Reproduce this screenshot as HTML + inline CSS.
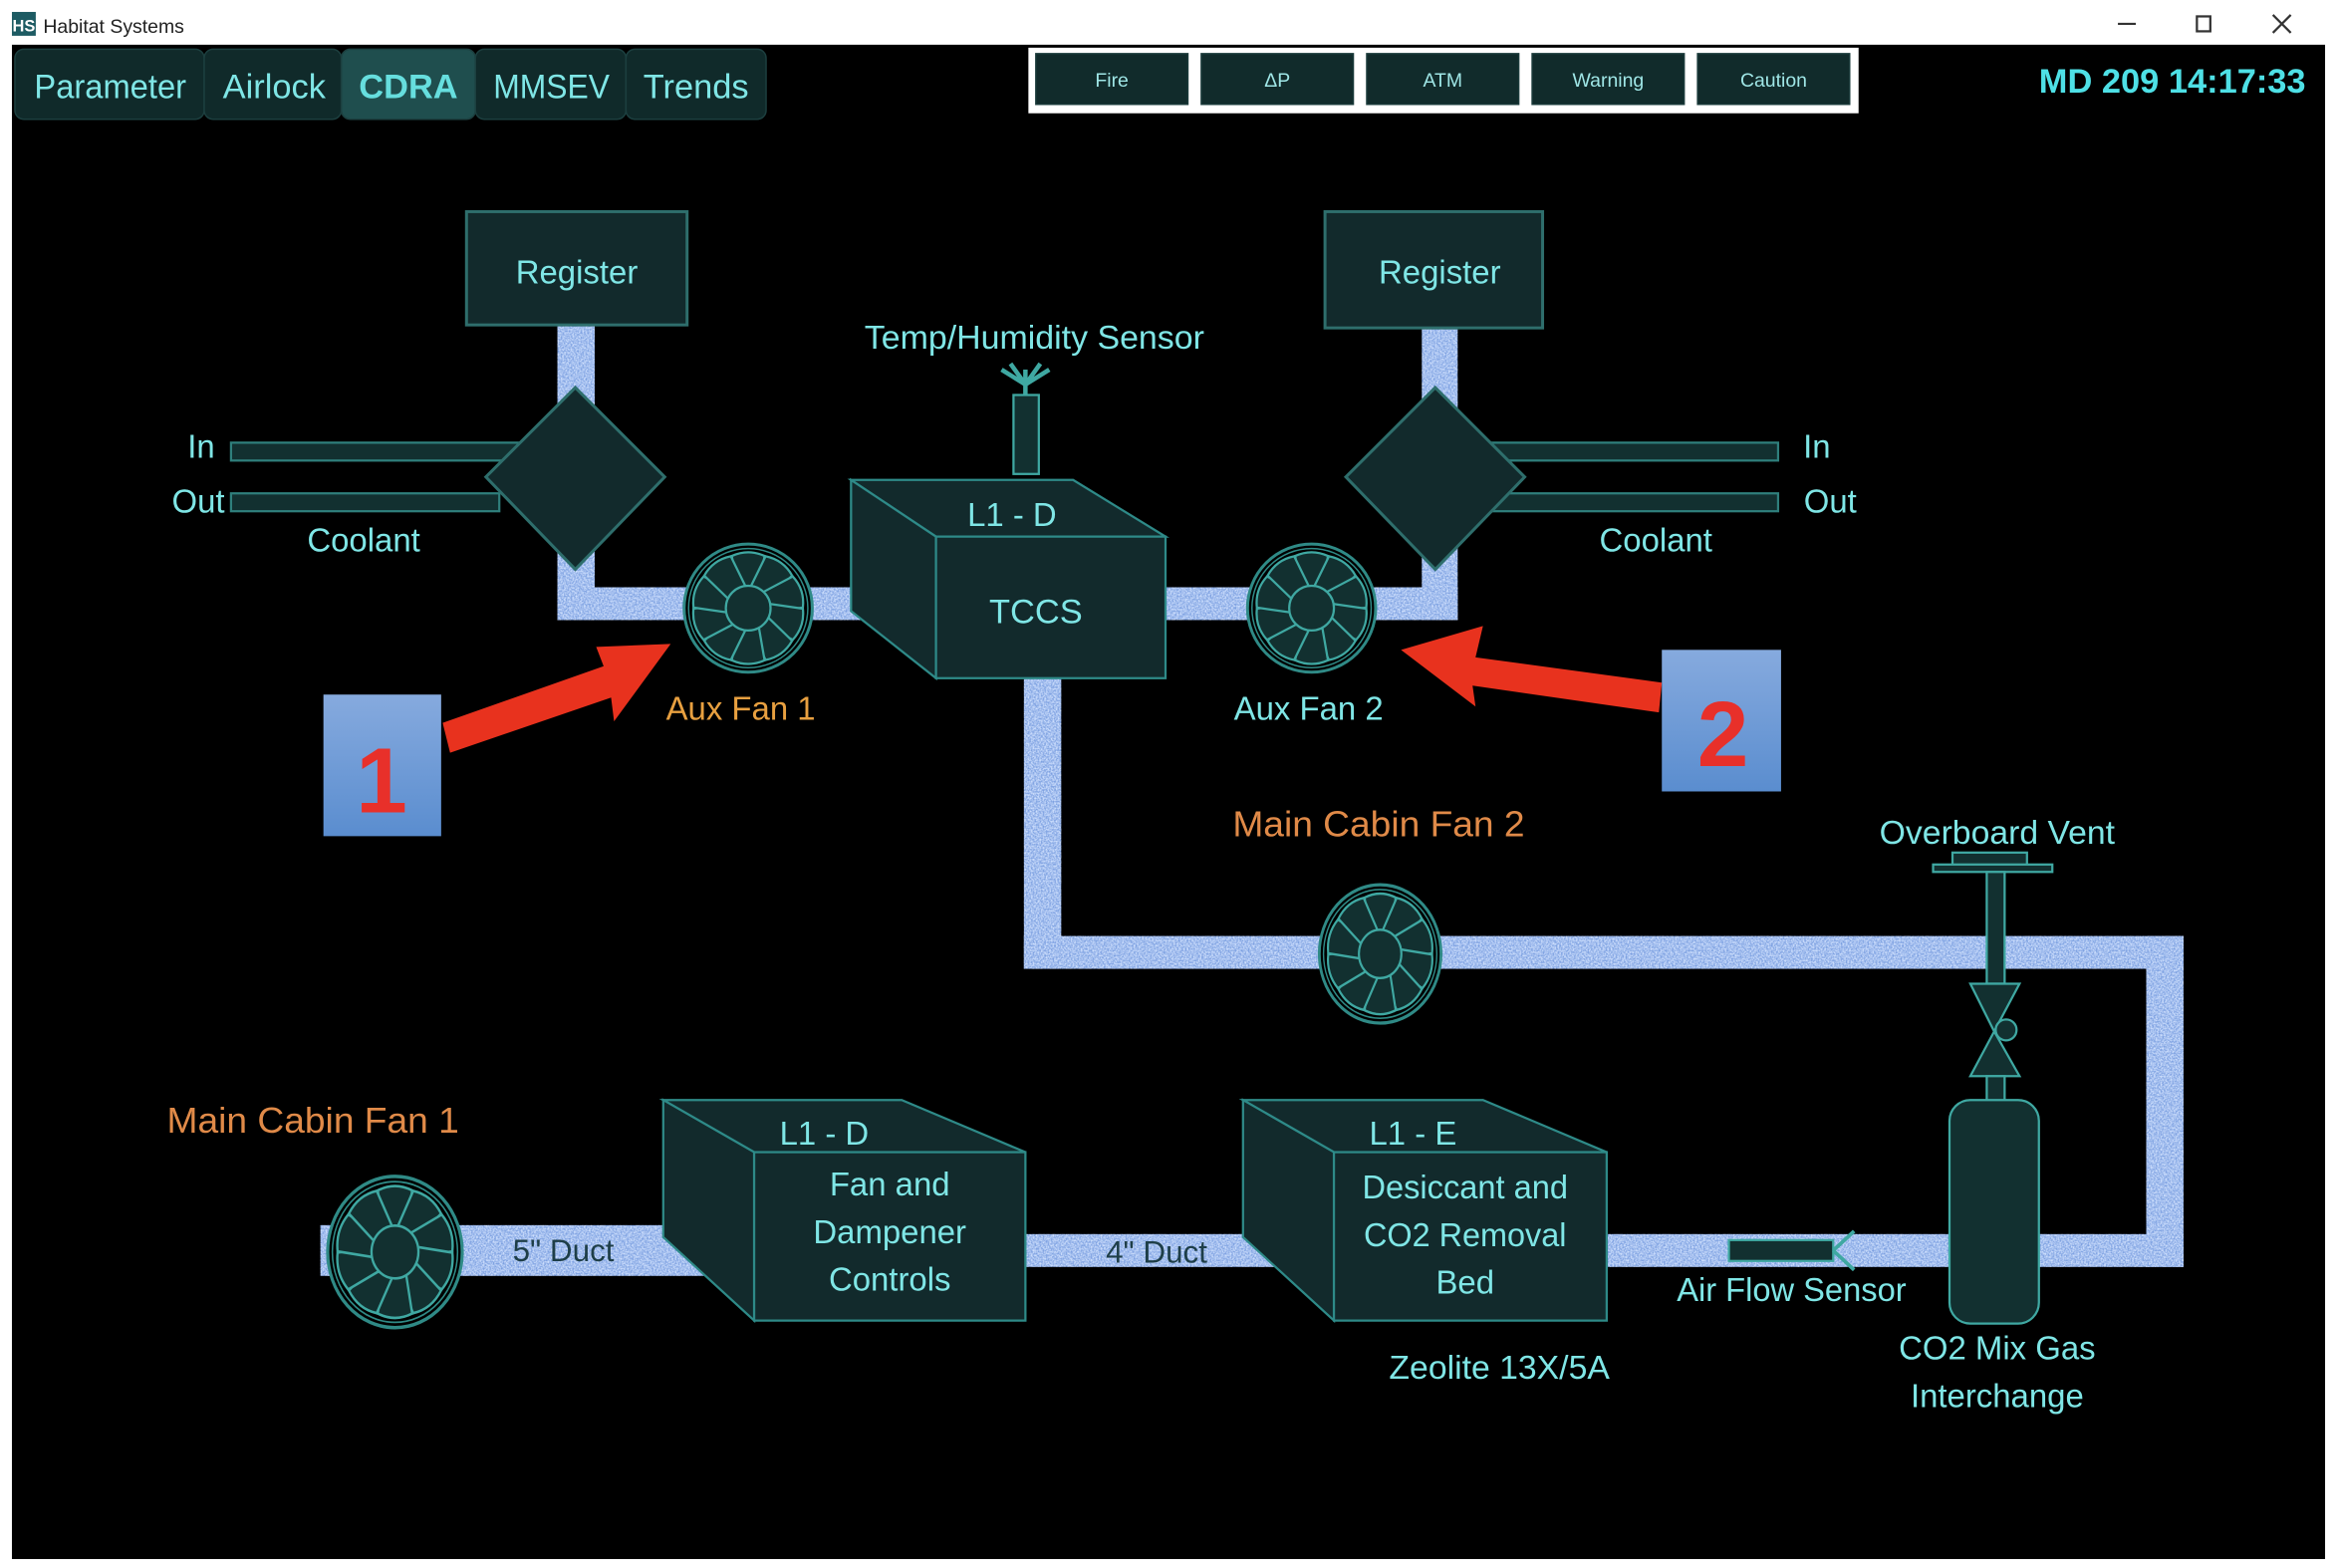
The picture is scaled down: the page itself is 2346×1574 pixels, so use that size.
<!DOCTYPE html>
<html><head><meta charset="utf-8"><style>
html,body{margin:0;padding:0;background:#fff;width:2346px;height:1574px;overflow:hidden}
svg{display:block}
text{font-family:"Liberation Sans",sans-serif}
</style></head><body>
<svg width="2346" height="1574" viewBox="0 0 1568 1052" preserveAspectRatio="none" xmlns="http://www.w3.org/2000/svg">
<defs>
<filter id="noise" x="0" y="0" width="100%" height="100%">
<feTurbulence type="fractalNoise" baseFrequency="0.9" numOctaves="2" seed="3" result="n"/>
<feColorMatrix in="n" type="matrix" values="0 0 0 0 0.62  0 0 0 0 0.74  0 0 0 0 0.98  0 0 0 -2 1.5" result="c"/>
<feComposite in="c" in2="SourceGraphic" operator="in"/>
</filter>
<linearGradient id="bg" x1="0" y1="0" x2="0" y2="1"><stop offset="0" stop-color="#86aade"/><stop offset="1" stop-color="#5a8dcf"/></linearGradient>
<g id="fan">
<circle r="43" fill="#000" stroke="#2f8a86" stroke-width="2"/>
<circle r="40" fill="none" stroke="#2f8a86" stroke-width="1"/>
<g fill="#123030" stroke="#3fa8a2" stroke-width="1.5">
<path id="bl" d="M-7,-12 L-11,-35 Q0,-40 11,-35 L7,-12 Z"/>
<use href="#bl" transform="rotate(36)"/><use href="#bl" transform="rotate(72)"/><use href="#bl" transform="rotate(108)"/><use href="#bl" transform="rotate(144)"/><use href="#bl" transform="rotate(180)"/><use href="#bl" transform="rotate(216)"/><use href="#bl" transform="rotate(252)"/><use href="#bl" transform="rotate(288)"/><use href="#bl" transform="rotate(324)"/>
</g>
<circle r="15" fill="#123030" stroke="#3fa8a2" stroke-width="1.5"/>
</g>
</defs>
<rect x="0" y="0" width="1568" height="1052" fill="#fff"/>
<rect x="8" y="30" width="1552" height="1016" fill="#000"/>
<rect x="8" y="8" width="16" height="16" fill="#1d5b63"/>
<text x="16" y="21" font-size="11" fill="#fff" text-anchor="middle" font-weight="bold">HS</text>
<text x="29" y="22" font-size="13" fill="#222">Habitat Systems</text>
<line x1="1421" y1="16" x2="1433" y2="16" stroke="#333" stroke-width="1.5"/>
<rect x="1474" y="11" width="9" height="10" fill="none" stroke="#333" stroke-width="1.5"/>
<path d="M1525,10 L1537,22 M1537,10 L1525,22" stroke="#333" stroke-width="1.5"/>
<g font-size="23" fill="#7fe6e6" text-anchor="middle">
<rect x="10" y="33" width="127" height="47" rx="6" fill="#102a2a" stroke="#1c3f3f"/>
<rect x="137" y="33" width="92" height="47" rx="6" fill="#102a2a" stroke="#1c3f3f"/>
<rect x="229" y="33" width="90" height="47" rx="6" fill="#1f4e4e" stroke="#1c3f3f"/>
<rect x="319" y="33" width="101" height="47" rx="6" fill="#102a2a" stroke="#1c3f3f"/>
<rect x="420" y="33" width="94" height="47" rx="6" fill="#102a2a" stroke="#1c3f3f"/>
<text x="74" y="66" textLength="102" lengthAdjust="spacingAndGlyphs">Parameter</text>
<text x="184" y="66">Airlock</text>
<text x="274" y="66" font-weight="bold" fill="#66dede">CDRA</text>
<text x="370" y="66" textLength="78" lengthAdjust="spacingAndGlyphs">MMSEV</text>
<text x="467" y="66">Trends</text>
</g>
<rect x="690" y="32" width="557" height="44" fill="#fff"/>
<g fill="#112b2b" stroke="#1a3a3a">
<rect x="695" y="36" width="102" height="34"/><rect x="806" y="36" width="102" height="34"/><rect x="917" y="36" width="102" height="34"/><rect x="1028" y="36" width="102" height="34"/><rect x="1139" y="36" width="102" height="34"/>
</g>
<g font-size="13" fill="#9fe6e6" text-anchor="middle">
<text x="746" y="58">Fire</text><text x="857" y="58">ΔP</text><text x="968" y="58">ATM</text><text x="1079" y="58">Warning</text><text x="1190" y="58">Caution</text>
</g>
<text x="1547" y="62" font-size="23" font-weight="bold" fill="#4ee0e6" text-anchor="end">MD 209 14:17:33</text>

<g fill="#7b9fe0">
<rect x="374" y="218" width="25" height="60"/>
<rect x="374" y="365" width="25" height="51"/>
<rect x="374" y="394" width="241" height="22"/>
<rect x="954" y="220" width="24" height="58"/>
<rect x="954" y="365" width="24" height="51"/>
<rect x="782" y="394" width="196" height="22"/>
<rect x="687" y="455" width="25" height="195"/>
<rect x="687" y="628" width="778" height="22"/>
<rect x="1440" y="628" width="25" height="222"/>
<rect x="1078" y="828" width="387" height="22"/>
<rect x="215" y="822" width="269" height="34"/>
<rect x="688" y="828" width="185" height="22"/>
</g>
<g fill="#000" filter="url(#noise)">
<rect x="374" y="218" width="25" height="60"/>
<rect x="374" y="365" width="25" height="51"/>
<rect x="374" y="394" width="241" height="22"/>
<rect x="954" y="220" width="24" height="58"/>
<rect x="954" y="365" width="24" height="51"/>
<rect x="782" y="394" width="196" height="22"/>
<rect x="687" y="455" width="25" height="195"/>
<rect x="687" y="628" width="778" height="22"/>
<rect x="1440" y="628" width="25" height="222"/>
<rect x="1078" y="828" width="387" height="22"/>
<rect x="215" y="822" width="269" height="34"/>
<rect x="688" y="828" width="185" height="22"/>
</g>

<g fill="#123030" stroke="#2f7f7c" stroke-width="1.5">
<rect x="155" y="297" width="195" height="12"/>
<rect x="155" y="331" width="180" height="12"/>
<rect x="995" y="297" width="198" height="12"/>
<rect x="995" y="331" width="198" height="12"/>
</g>
<g fill="#122a2c" stroke="#2e6e6c" stroke-width="2">
<rect x="313" y="142" width="148" height="76"/>
<rect x="889" y="142" width="146" height="78"/>
<polygon points="386,260 446,320 386,382 326,320"/>
<polygon points="963,260 1023,320 963,382 903,320"/>
</g>
<g font-size="22" fill="#7fe6e6" text-anchor="middle">
<text x="387" y="190">Register</text>
<text x="966" y="190">Register</text>
<text x="135" y="307">In</text><text x="133" y="344">Out</text><text x="244" y="370">Coolant</text>
<text x="1219" y="307">In</text><text x="1228" y="344">Out</text><text x="1111" y="370">Coolant</text>
<text x="694" y="234" textLength="228" lengthAdjust="spacingAndGlyphs">Temp/Humidity Sensor</text>
</g>

<g stroke="#3fa8a2" stroke-width="1.5" fill="#123030">
<rect x="680" y="265" width="17" height="53"/>
<path d="M688,265 L688,248 M688,258 L672,248 M688,258 L704,248 M688,258 L678,244 M688,258 L698,244" fill="none" stroke-width="3"/>
</g>
<g fill="#122a2c" stroke="#2e8a88" stroke-width="1.5">
<polygon points="571,322 720,322 782,360 628,360"/>
<polygon points="571,322 628,360 628,455 571,410"/>
<rect x="628" y="360" width="154" height="95"/>
</g>
<text x="679" y="353" font-size="22" fill="#7fe6e6" text-anchor="middle">L1 - D</text>
<text x="695" y="418" font-size="23" fill="#7fe6e6" text-anchor="middle">TCCS</text>

<use href="#fan" transform="translate(502,408)"/>
<use href="#fan" transform="translate(880,408)"/>
<use href="#fan" transform="translate(926,640) scale(0.95,1.08)"/>
<use href="#fan" transform="translate(265,840) scale(1.05,1.18)"/>
<text x="497" y="483" font-size="22" fill="#e8a040" text-anchor="middle">Aux Fan 1</text>
<text x="878" y="483" font-size="22" fill="#7fe6e6" text-anchor="middle">Aux Fan 2</text>
<text x="925" y="561" font-size="24" fill="#e08a48" text-anchor="middle" textLength="196" lengthAdjust="spacingAndGlyphs">Main Cabin Fan 2</text>
<text x="210" y="760" font-size="24" fill="#e08a48" text-anchor="middle" textLength="196" lengthAdjust="spacingAndGlyphs">Main Cabin Fan 1</text>

<text x="1340" y="566" font-size="22" fill="#7fe6e6" text-anchor="middle" textLength="158" lengthAdjust="spacingAndGlyphs">Overboard Vent</text>
<g fill="#123030" stroke="#3fa8a2" stroke-width="1.5">
<rect x="1310" y="572" width="50" height="10"/>
<rect x="1297" y="580" width="80" height="5"/>
<rect x="1333" y="585" width="12" height="75"/>
<polygon points="1322,660 1355,660 1338,692"/>
<polygon points="1338,692 1322,722 1355,722"/>
<circle cx="1346" cy="691" r="7"/>
<rect x="1333" y="722" width="12" height="18"/>
<rect x="1308" y="738" width="60" height="150" rx="14"/>
</g>
<text x="1340" y="912" font-size="22" fill="#7fe6e6" text-anchor="middle">CO2 Mix Gas</text>
<text x="1340" y="944" font-size="22" fill="#7fe6e6" text-anchor="middle">Interchange</text>

<g fill="#122a2c" stroke="#2e8a88" stroke-width="1.5">
<polygon points="445,738 605,738 688,773 506,773"/>
<polygon points="445,738 506,773 506,886 445,830"/>
<rect x="506" y="773" width="182" height="113"/>
<polygon points="834,738 995,738 1078,773 895,773"/>
<polygon points="834,738 895,773 895,886 834,830"/>
<rect x="895" y="773" width="183" height="113"/>
</g>
<g font-size="22" fill="#7fe6e6" text-anchor="middle">
<text x="553" y="768">L1 - D</text>
<text x="597" y="802">Fan and</text><text x="597" y="834">Dampener</text><text x="597" y="866">Controls</text>
<text x="948" y="768">L1 - E</text>
<text x="983" y="804" textLength="138" lengthAdjust="spacingAndGlyphs">Desiccant and</text><text x="983" y="836" textLength="136" lengthAdjust="spacingAndGlyphs">CO2 Removal</text><text x="983" y="868">Bed</text>
<text x="1006" y="925" textLength="148" lengthAdjust="spacingAndGlyphs">Zeolite 13X/5A</text>
<text x="1202" y="873" textLength="154" lengthAdjust="spacingAndGlyphs">Air Flow Sensor</text>
</g>
<text x="378" y="846" font-size="21" fill="#1e3e48" text-anchor="middle">5" Duct</text>
<text x="776" y="847" font-size="21" fill="#1e3e48" text-anchor="middle">4" Duct</text>
<g fill="#123030" stroke="#3fa8a2" stroke-width="1.5">
<rect x="1160" y="832" width="70" height="14"/>
<path d="M1230,839 L1244,826 M1230,839 L1244,852" fill="none" stroke-width="2.5"/>
</g>

<g fill="#e8321e">
<polygon points="297,485 405,447 400,434 450,432 412,484 410,468 302,505"/>
<polygon points="1115,458 990,441 995,420 940,436 990,474 988,460 1113,478"/>
</g>
<rect x="217" y="466" width="79" height="95" fill="url(#bg)"/>
<rect x="1115" y="436" width="80" height="95" fill="url(#bg)"/>
<text x="256" y="545" font-size="62" font-weight="bold" fill="#e8302a" text-anchor="middle">1</text>
<text x="1156" y="514" font-size="62" font-weight="bold" fill="#e8302a" text-anchor="middle">2</text>
</svg>
</body></html>
